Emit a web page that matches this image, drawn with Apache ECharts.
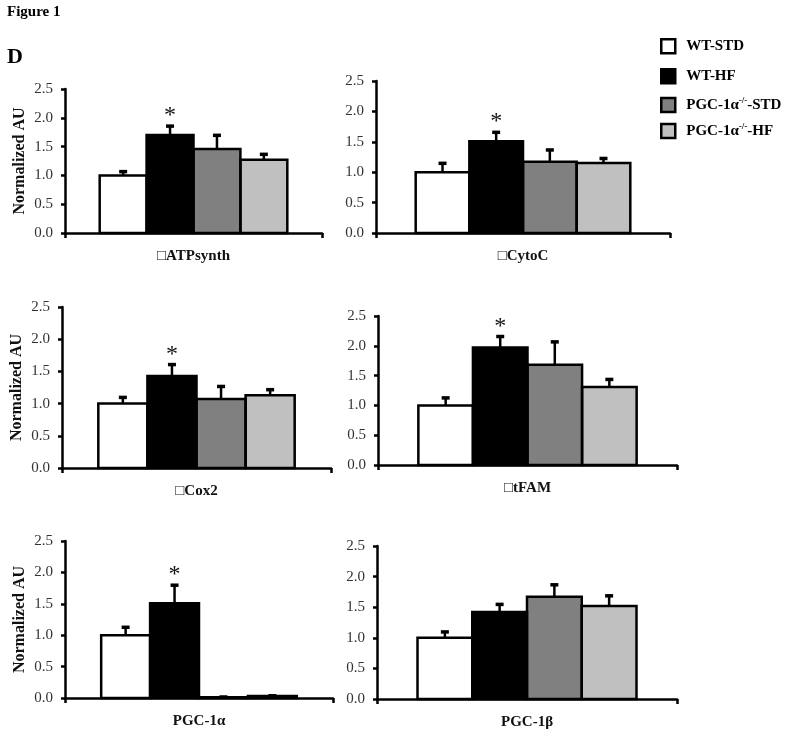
<!DOCTYPE html>
<html>
<head>
<meta charset="utf-8">
<script src="https://cdn.jsdelivr.net/npm/echarts@6/dist/echarts.min.js"></script>
<style>
  html, body { margin: 0; padding: 0; background: #fff; }
  #chart { width: 800px; height: 734px; }
</style>
</head>
<body>
<div id="chart"></div>
<script>
// ---- data ----
const categories = ['\u25A1ATPsynth', '\u25A1CytoC', '\u25A1Cox2', '\u25A1tFAM', 'PGC-1\u03B1', 'PGC-1\u03B2'];
const groups = ['WT-STD', 'WT-HF', 'PGC-1\u03B1-/--STD', 'PGC-1\u03B1-/--HF'];
const wtStd    = [1.00, 1.00, 1.00, 1.00, 1.00, 1.00];
const wtHf     = [1.70, 1.51, 1.43, 1.97, 1.51, 1.42];
const koStd    = [1.46, 1.17, 1.07, 1.68, 0.01, 1.67];
const koHf     = [1.27, 1.15, 1.13, 1.31, 0.03, 1.52];
const wtStdErr = [0.07, 0.15, 0.10, 0.13, 0.13, 0.10];
const wtHfErr  = [0.16, 0.15, 0.18, 0.19, 0.29, 0.13];
const koStdErr = [0.24, 0.20, 0.20, 0.39, 0.01, 0.20];
const koHfErr  = [0.10, 0.08, 0.09, 0.13, 0.01, 0.17];
const significant = [1, 1, 1, 1, 1, 0]; // asterisk over WT-HF
const yTicks = [0, 0.5, 1.0, 1.5, 2.0, 2.5];

// ---- layout / style ----
const values = [wtStd, wtHf, koStd, koHf];
const errs = [wtStdErr, wtHfErr, koStdErr, koHfErr];
const fills = ['#ffffff', '#000000', '#808080', '#c0c0c0'];
const SERIF = '"Liberation Serif", "Times New Roman", serif';
const gridBoxes = [
  {left: 65,  top: 89,  width: 257, height: 144},
  {left: 376, top: 81,  width: 294, height: 152},
  {left: 62,  top: 307, width: 269, height: 161},
  {left: 378, top: 316, width: 299, height: 149},
  {left: 65,  top: 541, width: 268, height: 157},
  {left: 377, top: 546, width: 300, height: 153}
];
const GAP = 0.27;
const LW = 2.5;

const grid = gridBoxes.map(b => Object.assign({containLabel: false}, b));
const xAxis = categories.map((c, p) => ({
  type: 'category', gridIndex: p, data: [c],
  axisLine: {lineStyle: {color: '#000', width: LW}},
  axisTick: {show: true, length: 5, lineStyle: {color: '#000', width: LW}},
  axisLabel: {margin: 16, fontFamily: SERIF, fontWeight: 'bold', fontSize: 15, color: '#111'}
}));
const yAxis = categories.map((c, p) => ({
  type: 'value', gridIndex: p, min: yTicks[0], max: yTicks[yTicks.length - 1],
  interval: yTicks[1] - yTicks[0],
  name: (p % 2 === 0) ? 'Normalized AU' : '',
  nameLocation: 'middle', nameGap: 37,
  nameTextStyle: {fontFamily: SERIF, fontWeight: 'bold', fontSize: 16, color: '#111'},
  axisLine: {show: true, lineStyle: {color: '#000', width: LW}},
  axisTick: {show: true, length: 4, lineStyle: {color: '#000', width: LW}},
  splitLine: {show: false},
  axisLabel: {margin: 12, fontFamily: SERIF, fontSize: 15, color: '#333',
    formatter: v => v.toFixed(1)}
}));

const series = [];
categories.forEach((c, p) => {
  groups.forEach((g, gi) => {
    series.push({
      type: 'bar', name: g, xAxisIndex: p, yAxisIndex: p,
      data: [values[gi][p]],
      barGap: '0%', barCategoryGap: (GAP * 100) + '%',
      itemStyle: {color: fills[gi], borderWidth: 0},
      emphasis: {disabled: true}, animation: false
    });
  });
  // outlines, error bars and significance marks
  series.push({
    type: 'custom', xAxisIndex: p, yAxisIndex: p, z: 5, animation: false,
    data: groups.map((g, gi) => [0, values[gi][p], errs[gi][p], gi, (gi === 1 ? significant[p] : 0)]),
    encode: {x: 0, y: 1},
    renderItem: function (params, api) {
      const v = api.value(1), e = api.value(2), gi = api.value(3), star = api.value(4);
      const base = api.coord([0, v]);
      const zero = api.coord([0, 0]);
      const top = api.coord([0, v + e]);
      const band = api.size([1, 0])[0];
      const bw = band * (1 - GAP) / groups.length;
      const left = base[0] - bw * groups.length / 2 + gi * bw;
      const x = left + bw / 2;
      const children = [
        {type: 'rect', shape: {x: left, y: base[1], width: bw, height: zero[1] - base[1]},
          style: {fill: 'none', stroke: '#000', lineWidth: LW}},
        {type: 'line', shape: {x1: x, y1: base[1], x2: x, y2: top[1]},
          style: {stroke: '#000', lineWidth: LW}},
        {type: 'rect', shape: {x: x - 4, y: top[1] - 1.5, width: 8, height: 3.5},
          style: {fill: '#000'}}
      ];
      if (star) {
        children.push({type: 'text', x: x, y: top[1] + 2,
          style: {text: '*', fill: '#111', font: '24px ' + SERIF, align: 'center', verticalAlign: 'bottom'}});
      }
      return {type: 'group', children: children};
    }
  });
});

const legendTops = [38, 68, 96, 122];
const legend = groups.map((g, i) => ({
  data: [g], left: 660, top: legendTops[i], padding: 0, orient: 'vertical',
  icon: 'rect', itemWidth: 14, itemHeight: 14, selectedMode: false,
  itemStyle: {borderColor: '#000', borderWidth: LW},
  textStyle: {fontFamily: SERIF, fontWeight: 'bold', fontSize: 15, color: '#000', padding: [0, 0, 0, 6],
    rich: {
      a: {fontFamily: SERIF, fontWeight: 'bold', fontSize: 15, color: '#000'},
      s: {fontFamily: SERIF, fontWeight: 'bold', fontSize: 9, color: '#000', padding: [0, 0, 9, 0]}
    }},
  formatter: function (name) {
    const m = name.match(/^(PGC-1\u03B1)(-\/-)(.*)$/);
    if (m) return '{a|' + m[1] + '}{s|' + m[2] + '}{a|' + m[3] + '}';
    return name;
  }
}));

const option = {
  backgroundColor: '#fff',
  animation: false,
  title: [
    {text: 'Figure 1', left: 7, top: 5, padding: 0,
      textStyle: {fontFamily: SERIF, fontWeight: 'bold', fontSize: 15, color: '#000'}},
    {text: 'D', left: 7, top: 46, padding: 0,
      textStyle: {fontFamily: SERIF, fontWeight: 'bold', fontSize: 22, color: '#000'}}
  ],
  legend: legend,
  grid: grid, xAxis: xAxis, yAxis: yAxis, series: series
};

const chart = echarts.init(document.getElementById('chart'), null, {renderer: 'canvas'});
chart.setOption(option);
</script>
</body>
</html>
